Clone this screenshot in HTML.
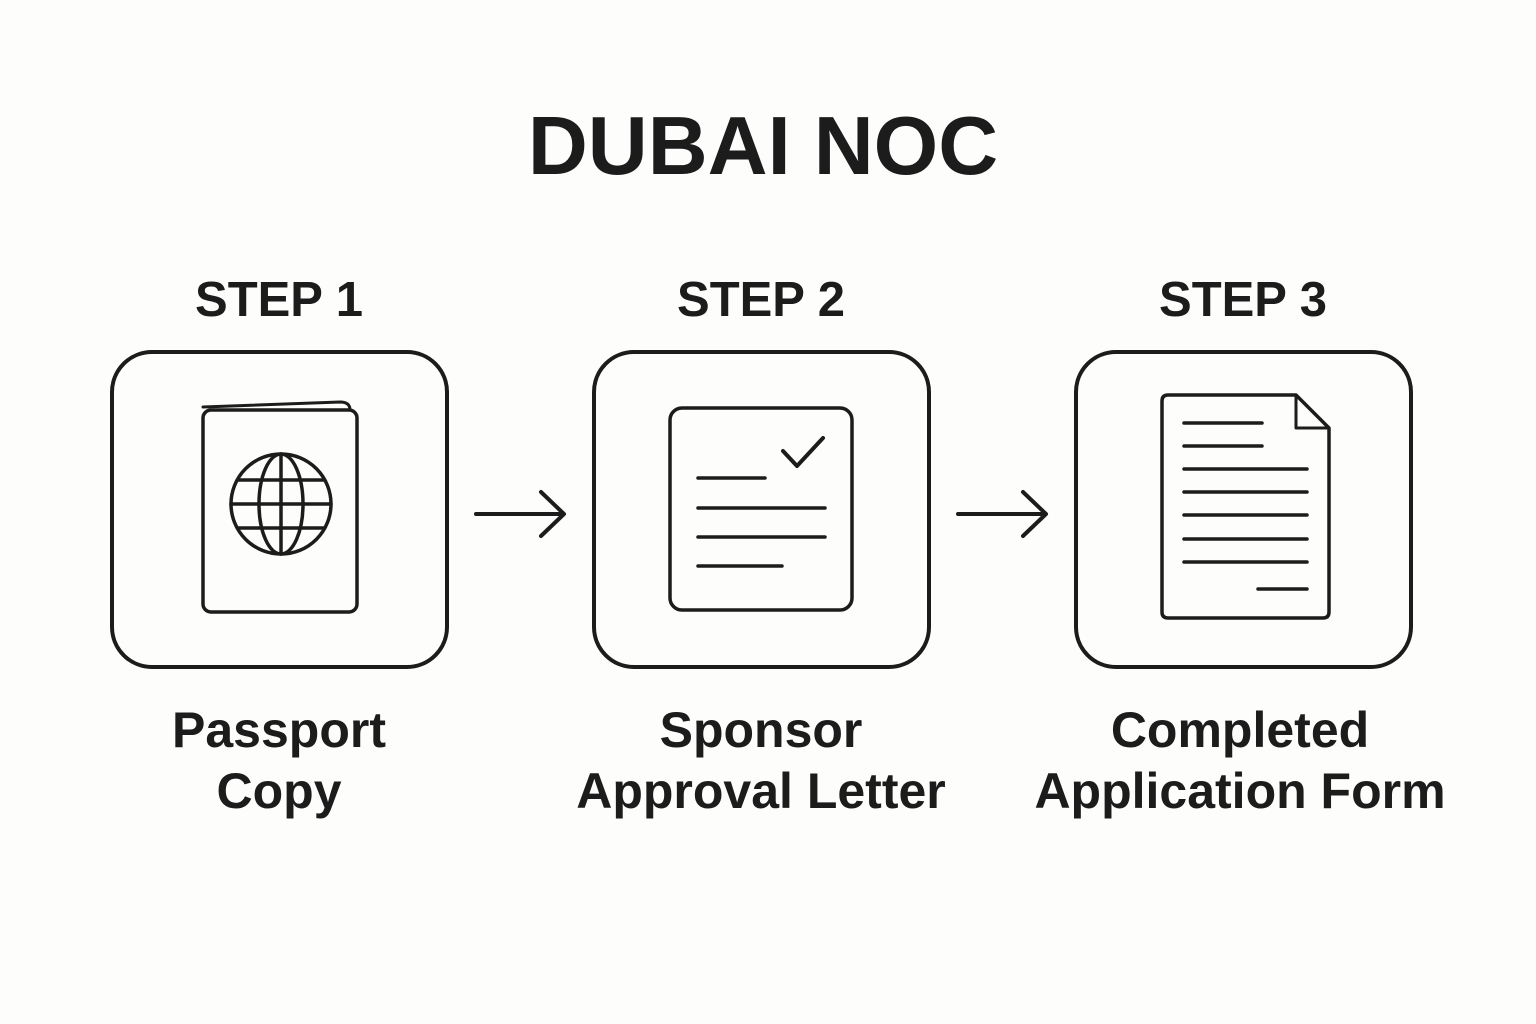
<!DOCTYPE html>
<html><head><meta charset="utf-8"><style>
html,body{margin:0;padding:0;background:#fdfdfb;}
body{width:1536px;height:1024px;overflow:hidden;position:relative;font-family:"Liberation Sans",sans-serif;color:#1c1c1c;}
.t{position:absolute;text-align:center;white-space:nowrap;}
</style></head><body>
<svg width="1536" height="1024" style="position:absolute;left:0;top:0" xmlns="http://www.w3.org/2000/svg">
<g fill="none" stroke="#1c1c1c" stroke-width="4" stroke-linecap="round" stroke-linejoin="round">
<rect x="112" y="352" width="335" height="315" rx="40"/>
<rect x="594" y="352" width="335" height="315" rx="40"/>
<rect x="1076" y="352" width="335" height="315" rx="40"/>
<path d="M476 514H563M541 492L564 514L541 536"/>
<path d="M958 514H1045M1023 492L1046 514L1023 536"/>
<path d="M203 407L340 402Q350 402 350 410" stroke-width="3"/>
<rect x="203" y="410" width="154" height="202" rx="8" stroke-width="3.5"/>
<circle cx="281" cy="504" r="50" stroke-width="3.5"/>
<ellipse cx="281" cy="504" rx="22" ry="50" stroke-width="3.5"/>
<path d="M281 454V554M231 504H331M238 480H324M238 528H324" stroke-width="3.5"/>
<rect x="670" y="408" width="182" height="202" rx="12" stroke-width="3.5"/>
<path d="M783 451L797 466L823 438" stroke-width="4"/>
<path d="M698 478H765M698 508H825M698 537H825M698 566H782" stroke-width="3.5"/>
<path d="M1168 395H1296L1329 428V612Q1329 618 1323 618H1168Q1162 618 1162 612V401Q1162 395 1168 395Z" stroke-width="3.5"/>
<path d="M1296 395V428H1329" stroke-width="3"/>
<path d="M1184 423H1262M1184 446H1262M1184 469H1307M1184 492H1307M1184 515H1307M1184 539H1307M1184 562H1307M1258 589H1307" stroke-width="3.5"/>
</g>
</svg>
<div class="t" style="left:0;width:1526px;top:96px;font-size:83px;font-weight:bold;line-height:100px;">DUBAI NOC</div>
<div class="t" style="left:129px;width:300px;top:270px;font-size:49px;font-weight:bold;line-height:60px;">STEP 1</div>
<div class="t" style="left:611px;width:300px;top:270px;font-size:49px;font-weight:bold;line-height:60px;">STEP 2</div>
<div class="t" style="left:1093px;width:300px;top:270px;font-size:49px;font-weight:bold;line-height:60px;">STEP 3</div>
<div class="t" style="left:79px;width:400px;top:700px;font-size:50px;line-height:61px;font-weight:bold;">Passport<br>Copy</div>
<div class="t" style="left:511px;width:500px;top:700px;font-size:50px;line-height:61px;font-weight:bold;">Sponsor<br>Approval Letter</div>
<div class="t" style="left:990px;width:500px;top:700px;font-size:50px;line-height:61px;font-weight:bold;">Completed<br>Application Form</div>
</body></html>
